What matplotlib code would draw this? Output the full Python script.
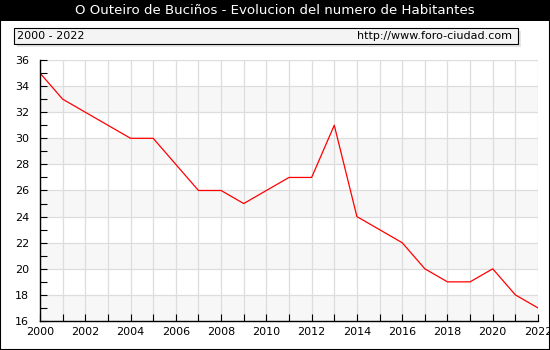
import matplotlib
matplotlib.use("Agg")
import matplotlib.pyplot as plt
from matplotlib.patches import Rectangle

TITLE = "O Outeiro de Buciños - Evolucion del numero de Habitantes"
RANGE_LABEL = "2000 - 2022"
URL_LABEL = "http://www.foro-ciudad.com"

YEARS = list(range(2000, 2023))
HABITANTES = [35, 33, 32, 31, 30, 30, 28, 26, 26, 25, 26, 27,
              27, 31, 24, 23, 22, 20, 19, 19, 20, 18, 17]

X_TICKS = list(range(2000, 2023, 2))
Y_TICKS = list(range(16, 37, 2))

plt.rcParams["font.family"] = "DejaVu Sans"

fig = plt.figure(figsize=(5.5, 3.5), dpi=100)
fig.patch.set_facecolor("white")

# outer border and title bar
fig.add_artist(Rectangle((0, 0), 1, 1, transform=fig.transFigure,
                         fill=False, edgecolor="black", linewidth=1.5))
fig.add_artist(Rectangle((0, 1 - 21 / 350), 1, 21 / 350, transform=fig.transFigure,
                         facecolor="black", edgecolor="none"))
fig.text(0.5, 1 - 10.5 / 350, TITLE, color="white", fontsize=9.6,
         ha="center", va="center")

# info box with shadow
bx0, bx1 = 14 / 550, 518 / 550
by0, by1 = 1 - 44 / 350, 1 - 28 / 350
fig.add_artist(Rectangle((bx0 + 3 / 550, by0 - 3 / 350), bx1 - bx0, by1 - by0,
                         transform=fig.transFigure, facecolor="#e6e6e6", edgecolor="none"))
fig.add_artist(Rectangle((bx0, by0), bx1 - bx0, by1 - by0, transform=fig.transFigure,
                         facecolor="#f4f4f4", edgecolor="black", linewidth=0.8))
fig.text(bx0 + 3 / 550, (by0 + by1) / 2, RANGE_LABEL, fontsize=8, ha="left", va="center")
fig.text(bx1 - 6 / 550, (by0 + by1) / 2, URL_LABEL, fontsize=8, ha="right", va="center")

ax = fig.add_axes([40 / 550, 29 / 350, 498 / 550, 261 / 350])

# alternating bands
for i, y0 in enumerate(Y_TICKS[:-1]):
    if i % 2 == 0:
        ax.axhspan(y0, y0 + 2, facecolor="#f7f7f7", edgecolor="none", zorder=0)

ax.plot(YEARS, HABITANTES, color="red", linewidth=0.9, zorder=3)

ax.set_xlim(2000, 2022)
ax.set_ylim(16, 36)
ax.set_xticks(X_TICKS)
ax.set_xticks(YEARS, minor=True)
ax.set_yticks(Y_TICKS)
ax.set_yticks(range(17, 36, 2), minor=True)
ax.tick_params(which="both", direction="in", length=5, width=0.8, labelsize=8)
ax.tick_params(axis="x", which="both", top=False, pad=4)
ax.tick_params(axis="y", which="both", right=False, pad=8)

for x in YEARS:
    ax.axvline(x, color="#dddddd", linewidth=0.9, zorder=1)
for y in Y_TICKS:
    ax.axhline(y, color="#dddddd", linewidth=0.9, zorder=1)

ax.spines["top"].set_visible(False)
ax.spines["right"].set_visible(False)
ax.spines["left"].set_linewidth(1)
ax.spines["bottom"].set_linewidth(1)
ax.spines["left"].set_zorder(4)
ax.spines["bottom"].set_zorder(4)

fig.savefig("out.png", dpi=100)
